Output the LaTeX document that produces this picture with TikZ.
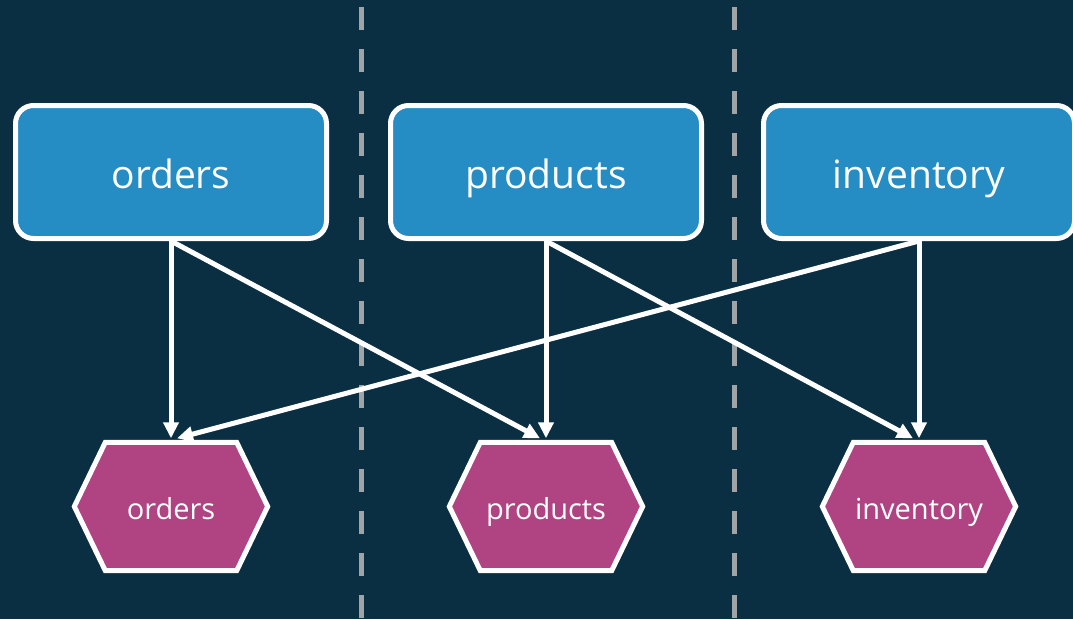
\documentclass[tikz,border=0pt]{standalone}
\usepackage{fontspec}
\setmainfont{Open Sans}
\usetikzlibrary{arrows.meta,calc}
\definecolor{bgcol}{HTML}{0B2F42}
\definecolor{boxblue}{HTML}{258DC3}
\definecolor{hexpink}{HTML}{B04482}
\definecolor{dashgray}{HTML}{A0A4A6}
\pgfdeclarelayer{back}
\pgfsetlayers{back,main}
\begin{document}
\begin{tikzpicture}[x=1pt,y=-1pt,
  topicbox/.style={draw=white,line width=5pt,fill=boxblue,rounded corners=18pt,
    minimum width=311pt,minimum height=133pt,inner sep=0pt,text=white,
    text height=32pt,text depth=0pt,
    font=\fontsize{39}{44}\selectfont},
  hexlabel/.style={minimum width=193pt,minimum height=128pt,inner sep=0pt,text=white,
    text height=25pt,text depth=0pt,
    font=\fontsize{29}{34}\selectfont},
  hexshape/.style={draw=white,line width=5pt,fill=hexpink,line join=miter},
  flow/.style={draw=white,line width=5pt,-{Triangle[length=16pt,width=15pt]}},
  divider/.style={draw=dashgray,line width=5pt,dash pattern=on 23pt off 19pt}]
\begin{pgfonlayer}{back}
\fill[bgcol] (0,0) rectangle (1073,619);
\end{pgfonlayer}
\useasboundingbox (0,0) rectangle (1073,619);
\coordinate (d1t) at (361,7);
\coordinate (d1b) at (361,619);
\coordinate (d2t) at (734,7);
\coordinate (d2b) at (734,619);
\draw[divider] (d1t) -- (d1b);
\draw[divider] (d2t) -- (d2b);
\node[topicbox] (bo) at (171,172) {orders};
\node[topicbox] (bp) at (546,172) {products};
\node[topicbox] (bi) at (919,172) {inventory};
\foreach \n/\t/\x in {ho/orders/171,hp/products/546,hi/inventory/919}{
  \node[hexlabel] (\n) at (\x,506.5) {\t};
  \begin{pgfonlayer}{back}
  \draw[hexshape] (\n.west) -- ($(\n.north west)+(31,0)$) -- ($(\n.north east)+(-31,0)$)
    -- (\n.east) -- ($(\n.south east)+(-31,0)$) -- ($(\n.south west)+(31,0)$) -- cycle;
  \end{pgfonlayer}
}
\draw[flow] (bo.south) -- ($(ho.north)+(0,-4)$);
\draw[flow] (bp.south) -- ($(hp.north)+(0,-4)$);
\draw[flow] (bi.south) -- ($(hi.north)+(0,-4)$);
\draw[flow] (bo.south) -- ($(hp.north)+(-6,-4)$);
\draw[flow] (bp.south) -- ($(hi.north)+(-6,-4)$);
\draw[flow] (bi.south) -- ($(ho.north)+(6,-4)$);
\end{tikzpicture}
\end{document}
